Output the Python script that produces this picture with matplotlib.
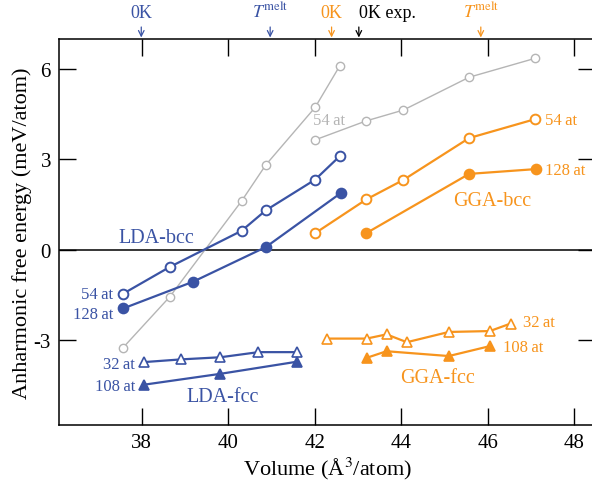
import matplotlib
matplotlib.use("Agg")
import matplotlib.pyplot as plt

plt.rcParams['font.family'] = ['Liberation Serif', 'DejaVu Serif']
plt.rcParams['mathtext.fontset'] = 'stix'
plt.rcParams['axes.unicode_minus'] = False

BLUE = '#3a53a4'
ORANGE = '#f7941d'
GRAY = '#b5b5b5'

# gray reference curves (54 at)
gray1_v = [37.57, 38.65, 40.31, 40.87, 42.01, 42.58]
gray1_e = [-3.25, -1.56, 1.62, 2.82, 4.73, 6.11]
gray2_v = [42.01, 43.19, 44.05, 45.57, 47.10]
gray2_e = [3.65, 4.28, 4.64, 5.73, 6.36]

# LDA-bcc
lda_bcc54_v = [37.57, 38.65, 40.31, 40.87, 42.01, 42.58]
lda_bcc54_e = [-1.46, -0.57, 0.63, 1.31, 2.33, 3.11]
lda_bcc128_v = [37.57, 39.19, 40.87, 42.60]
lda_bcc128_e = [-1.95, -1.06, 0.09, 1.88]

# GGA-bcc
gga_bcc54_v = [42.01, 43.19, 44.05, 45.57, 47.10]
gga_bcc54_e = [0.55, 1.67, 2.32, 3.71, 4.34]
gga_bcc128_v = [43.19, 45.57, 47.12]
gga_bcc128_e = [0.55, 2.52, 2.68]

# LDA-fcc
lda_fcc32_v = [38.06, 38.92, 39.82, 40.70, 41.58]
lda_fcc32_e = [-3.73, -3.64, -3.57, -3.40, -3.40]
lda_fcc108_v = [38.06, 39.82, 41.58]
lda_fcc108_e = [-4.48, -4.12, -3.72]

# GGA-fcc
gga_fcc32_v = [42.28, 43.20, 43.66, 44.13, 45.10, 46.05, 46.53]
gga_fcc32_e = [-2.95, -2.95, -2.81, -3.07, -2.73, -2.70, -2.45]
gga_fcc108_v = [43.20, 43.66, 45.10, 46.05]
gga_fcc108_e = [-3.59, -3.37, -3.53, -3.20]

# markers along the top axis
top_marks = [(37.99, '0K', BLUE), (40.97, r'$T^{\rm melt}$', BLUE),
             (42.39, '0K', ORANGE), (43.02, '0K exp.', 'black'),
             (45.84, r'$T^{\rm melt}$', ORANGE)]

fig = plt.figure(figsize=(5.92, 4.85), dpi=100)
ax = fig.add_axes([59.3 / 592, 1 - 425.7 / 485, (595 - 59.3) / 592, (425.7 - 40) / 485])

ax.axhline(0, color='black', lw=1.1, zorder=1)


def curve(v, e, color, marker, filled, lw=1.6, ms=7, mew=1.4):
    ax.plot(v, e, color=color, lw=lw, marker=marker, ms=ms,
            mfc=color if filled else 'white', mec=color, mew=mew, zorder=3)


curve(gray1_v, gray1_e, GRAY, 'o', False, lw=1.0, ms=6, mew=1.0)
curve(gray2_v, gray2_e, GRAY, 'o', False, lw=1.0, ms=6, mew=1.0)
curve(lda_bcc54_v, lda_bcc54_e, BLUE, 'o', False)
curve(lda_bcc128_v, lda_bcc128_e, BLUE, 'o', True)
curve(gga_bcc54_v, gga_bcc54_e, ORANGE, 'o', False)
curve(gga_bcc128_v, gga_bcc128_e, ORANGE, 'o', True)
curve(lda_fcc32_v, lda_fcc32_e, BLUE, '^', False, ms=6.5, mew=1.2)
curve(lda_fcc108_v, lda_fcc108_e, BLUE, '^', True, ms=6.5, mew=1.2)
curve(gga_fcc32_v, gga_fcc32_e, ORANGE, '^', False, ms=6.5, mew=1.2)
curve(gga_fcc108_v, gga_fcc108_e, ORANGE, '^', True, ms=6.5, mew=1.2)

ls = 12
ax.text(37.34, -1.47, '54\u2009at', color=BLUE, fontsize=ls, ha='right', va='center')
ax.text(37.34, -2.14, '128\u2009at', color=BLUE, fontsize=ls, ha='right', va='center')
ax.text(37.85, -3.80, '32\u2009at', color=BLUE, fontsize=ls, ha='right', va='center')
ax.text(37.85, -4.52, '108\u2009at', color=BLUE, fontsize=ls, ha='right', va='center')
ax.text(41.96, 4.31, '54\u2009at', color=GRAY, fontsize=ls, ha='left', va='center')
ax.text(47.32, 4.31, '54\u2009at', color=ORANGE, fontsize=ls, ha='left', va='center')
ax.text(47.32, 2.65, '128\u2009at', color=ORANGE, fontsize=ls, ha='left', va='center')
ax.text(46.81, -2.40, '32\u2009at', color=ORANGE, fontsize=ls, ha='left', va='center')
ax.text(46.35, -3.23, '108\u2009at', color=ORANGE, fontsize=ls, ha='left', va='center')
ax.text(38.33, 0.42, 'LDA-bcc', color=BLUE, fontsize=14.5, ha='center', va='center')
ax.text(39.88, -4.86, 'LDA-fcc', color=BLUE, fontsize=14.5, ha='center', va='center')
ax.text(46.11, 1.62, 'GGA-bcc', color=ORANGE, fontsize=14.5, ha='center', va='center')
ax.text(44.84, -4.23, 'GGA-fcc', color=ORANGE, fontsize=14.5, ha='center', va='center')

trans = ax.get_xaxis_transform()
h = 385.7
for x, label, c in top_marks:
    ax.annotate('', xy=(x, 1 + 1.5 / h), xycoords=trans, xytext=(x, 1 + 12 / h),
                arrowprops=dict(arrowstyle='->', color=c, lw=0.9, shrinkA=0, shrinkB=0),
                annotation_clip=False)
    ax.text(x, 1 + 18 / h, label, transform=trans, color=c, fontsize=13,
            ha='center' if label != '0K exp.' else 'left', va='bottom', clip_on=False)

ax.set_xlim(36.095, 48.48)
ax.set_ylim(-5.81, 7.0)
ax.set_xticks([38, 40, 42, 44, 46, 48])
ax.set_yticks([-3, 0, 3, 6])
ax.tick_params(direction='in', length=12, width=1.0, labelsize=15,
               top=True, right=True, pad=6)
for s in ax.spines.values():
    s.set_linewidth(1.1)

ax.set_xlabel(r'Volume (Å$^3$/atom)', fontsize=16, labelpad=2)
ax.set_ylabel('Anharmonic free energy (meV/atom)', fontsize=16, labelpad=1)

fig.savefig('out.png', dpi=100)
